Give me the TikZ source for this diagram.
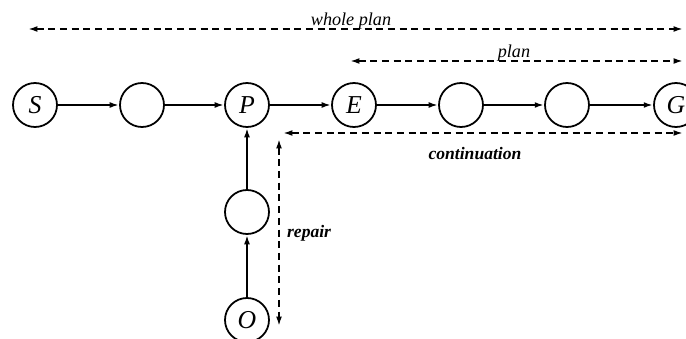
\documentclass[tikz,border=0pt]{standalone}
\usepackage{fontspec}
\setmainfont{Liberation Serif}
\usetikzlibrary{arrows.meta,positioning}

\begin{document}
\begin{tikzpicture}[x=0.03cm,y=-0.03cm,>={Latex[length=8pt,width=5pt]},
  nd/.style={draw,circle,line width=1.5pt,minimum size=1.32cm,inner sep=0pt,font=\fontsize{22}{24}\selectfont\itshape},
  lnk/.style={->,line width=1.6pt},
  rng/.style={<->,line width=1.5pt,dash pattern=on 6pt off 4pt},
  lbl/.style={font=\fontsize{15.5}{17}\selectfont\itshape}]
  \useasboundingbox (0,0) rectangle (686,339);
  \node[nd] (S) at (35,105) {S};
  \node[nd] (a) at (142,105) {};
  \node[nd] (P) at (247,105) {P};
  \node[nd] (E) at (354,105) {E};
  \node[nd] (b) at (461,105) {};
  \node[nd] (c) at (567,105) {};
  \node[nd] (G) at (676,105) {G};
  \node[nd] (d) at (247,212) {};
  \node[nd] (O) at (247,320) {O};
  \draw[lnk] (S) -- (a);
  \draw[lnk] (a) -- (P);
  \draw[lnk] (P) -- (E);
  \draw[lnk] (E) -- (b);
  \draw[lnk] (b) -- (c);
  \draw[lnk] (c) -- (G);
  \draw[lnk] (O) -- (d);
  \draw[lnk] (d) -- (P);
  % dashed spans
  \coordinate (w1) at (28,29);
  \coordinate (w2) at (683,29);
  \coordinate (p1) at (350,61);
  \coordinate (p2) at (683,61);
  \coordinate (c1) at (283,133);
  \coordinate (c2) at (683,133);
  \coordinate (r1) at (279,139);
  \coordinate (r2) at (279,326);
  \draw[rng] (w1) -- (w2);
  \draw[rng] (p1) -- (p2);
  \draw[rng] (c1) -- (c2);
  \draw[rng] (r1) -- (r2);
  \node[lbl,anchor=base] (wl) at (351,26) {whole plan};
  \node[lbl,anchor=base] (pl) at (514,58) {plan};
  \node[lbl,font=\fontsize{15}{17}\selectfont\bfseries\itshape] (cl) at (475,154) {continuation};
  \node[lbl,font=\fontsize{15}{17}\selectfont\bfseries\itshape,anchor=west] (rl) at (283,233) {repair};
\end{tikzpicture}
\end{document}
